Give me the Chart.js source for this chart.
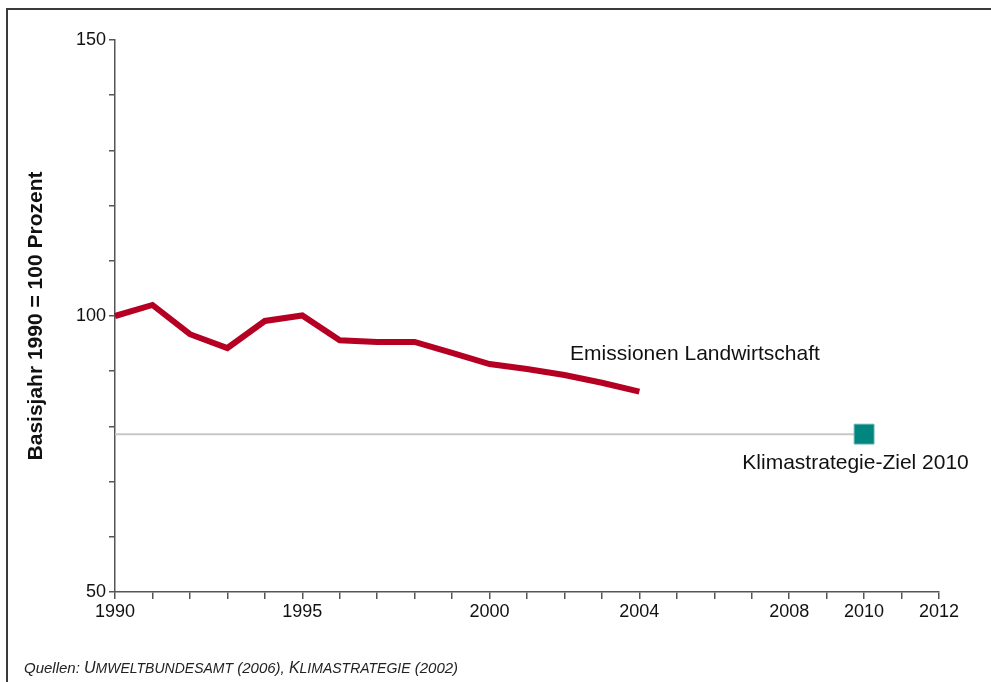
<!DOCTYPE html>
<html>
<head>
<meta charset="utf-8">
<script src="https://cdn.jsdelivr.net/npm/chart.js@4"></script>
<style>
    body { margin: 0; background: #fff; }
    #wrap { position: relative; width: 991px; height: 682px; overflow: hidden; }
    #frame { position: absolute; left: 6px; top: 8px; width: 1100px; height: 800px; border: 2px solid #3a3a3a; }
    #chartBox { position: absolute; left: 0; top: 0; width: 991px; height: 682px; }
    #source { position: absolute; left: 24px; top: 659px; font: italic 15px "Liberation Sans", Arial, sans-serif; color: #222; white-space: nowrap; }
    #source .cap { font-size: 16px; }
    #source .sc { font-size: 14px; }
</style>
</head>
<body>
<div id="wrap">
    <div id="frame"></div>
    <div id="chartBox"><canvas id="chart"></canvas></div>
    <div id="source">Quellen: <span class="cap">U</span><span class="sc">MWELTBUNDESAMT</span> (2006), <span class="cap">K</span><span class="sc">LIMASTRATEGIE</span> (2002)</div>
</div>
<script>
const years = [1990, 1991, 1992, 1993, 1994, 1995, 1996, 1997, 1998, 1999, 2000, 2001, 2002, 2003, 2004];
const emissions = [100, 102, 96.7, 94.2, 99.1, 100.1, 95.6, 95.3, 95.3, 93.3, 91.3, 90.4, 89.3, 87.9, 86.3];
const targetYears = [1990, 2010];
const targetValues = [78.6, 78.6];
const xTickLabels = [1990, 1995, 2000, 2004, 2008, 2010, 2012];
const yTickLabels = [50, 100, 150];

const font = "'Liberation Sans', Arial, sans-serif";

// labels placed next to the series
const labelPlugin = {
    id: "seriesLabels",
    afterDatasetsDraw(chart) {
        const ctx = chart.ctx;
        const x = chart.scales.x, y = chart.scales.y;
        ctx.save();
        ctx.font = "21px " + font;
        ctx.fillStyle = "#111";
        ctx.textBaseline = "middle";
        ctx.textAlign = "left";
        ctx.fillText("Emissionen Landwirtschaft", x.getPixelForValue(2002.15), y.getPixelForValue(93.1));
        ctx.fillText("Klimastrategie-Ziel 2010", x.getPixelForValue(2006.75), y.getPixelForValue(73.4));
        ctx.restore();
    }
};

new Chart(document.getElementById("chart"), {
    type: "line",
    data: {
        datasets: [
            {
                label: "Klimastrategie-Ziel 2010",
                data: targetYears.map((yr, i) => ({ x: yr, y: targetValues[i] })),
                borderColor: "#c8c8c8",
                borderWidth: 2,
                pointStyle: "rect",
                pointRadius: [0, 14],
                pointBackgroundColor: "#00857f",
                pointBorderColor: "#5aaeaa",
                pointBorderWidth: 1,
                clip: false
            },
            {
                label: "Emissionen Landwirtschaft",
                data: years.map((yr, i) => ({ x: yr, y: emissions[i] })),
                borderColor: "#b50024",
                borderWidth: 6,
                pointRadius: 0,
                tension: 0,
                clip: false
            }
        ]
    },
    options: {
        responsive: true,
        maintainAspectRatio: false,
        animation: false,
        layout: { padding: { top: 40, right: 52, left: 0, bottom: 0 } },
        plugins: { legend: { display: false }, tooltip: { enabled: false } },
        scales: {
            x: {
                type: "linear",
                min: 1990,
                max: 2012,
                afterFit: s => { s.height = 90; },
                border: { display: true, color: "#555", width: 1.5 },
                grid: { drawOnChartArea: false, drawTicks: true, tickLength: 7, color: "#555", lineWidth: 1.5 },
                ticks: {
                    stepSize: 1,
                    autoSkip: false,
                    maxRotation: 0,
                    padding: 2,
                    color: "#111",
                    font: { family: font, size: 18 },
                    callback: v => xTickLabels.includes(v) ? String(v) : ""
                }
            },
            y: {
                min: 50,
                max: 150,
                afterFit: s => { s.width = 115; },
                border: { display: true, color: "#555", width: 1.5 },
                grid: { drawOnChartArea: false, drawTicks: true, tickLength: 6, color: "#555", lineWidth: 1.5 },
                ticks: {
                    stepSize: 10,
                    padding: 3,
                    color: "#111",
                    font: { family: font, size: 18 },
                    callback: v => yTickLabels.includes(v) ? String(v) : ""
                },
                title: {
                    display: true,
                    text: "Basisjahr 1990 = 100 Prozent",
                    color: "#111",
                    font: { family: font, size: 21, weight: "bold" },
                    padding: { top: 24, bottom: 0 }
                }
            }
        }
    },
    plugins: [labelPlugin]
});
</script>
</body>
</html>
